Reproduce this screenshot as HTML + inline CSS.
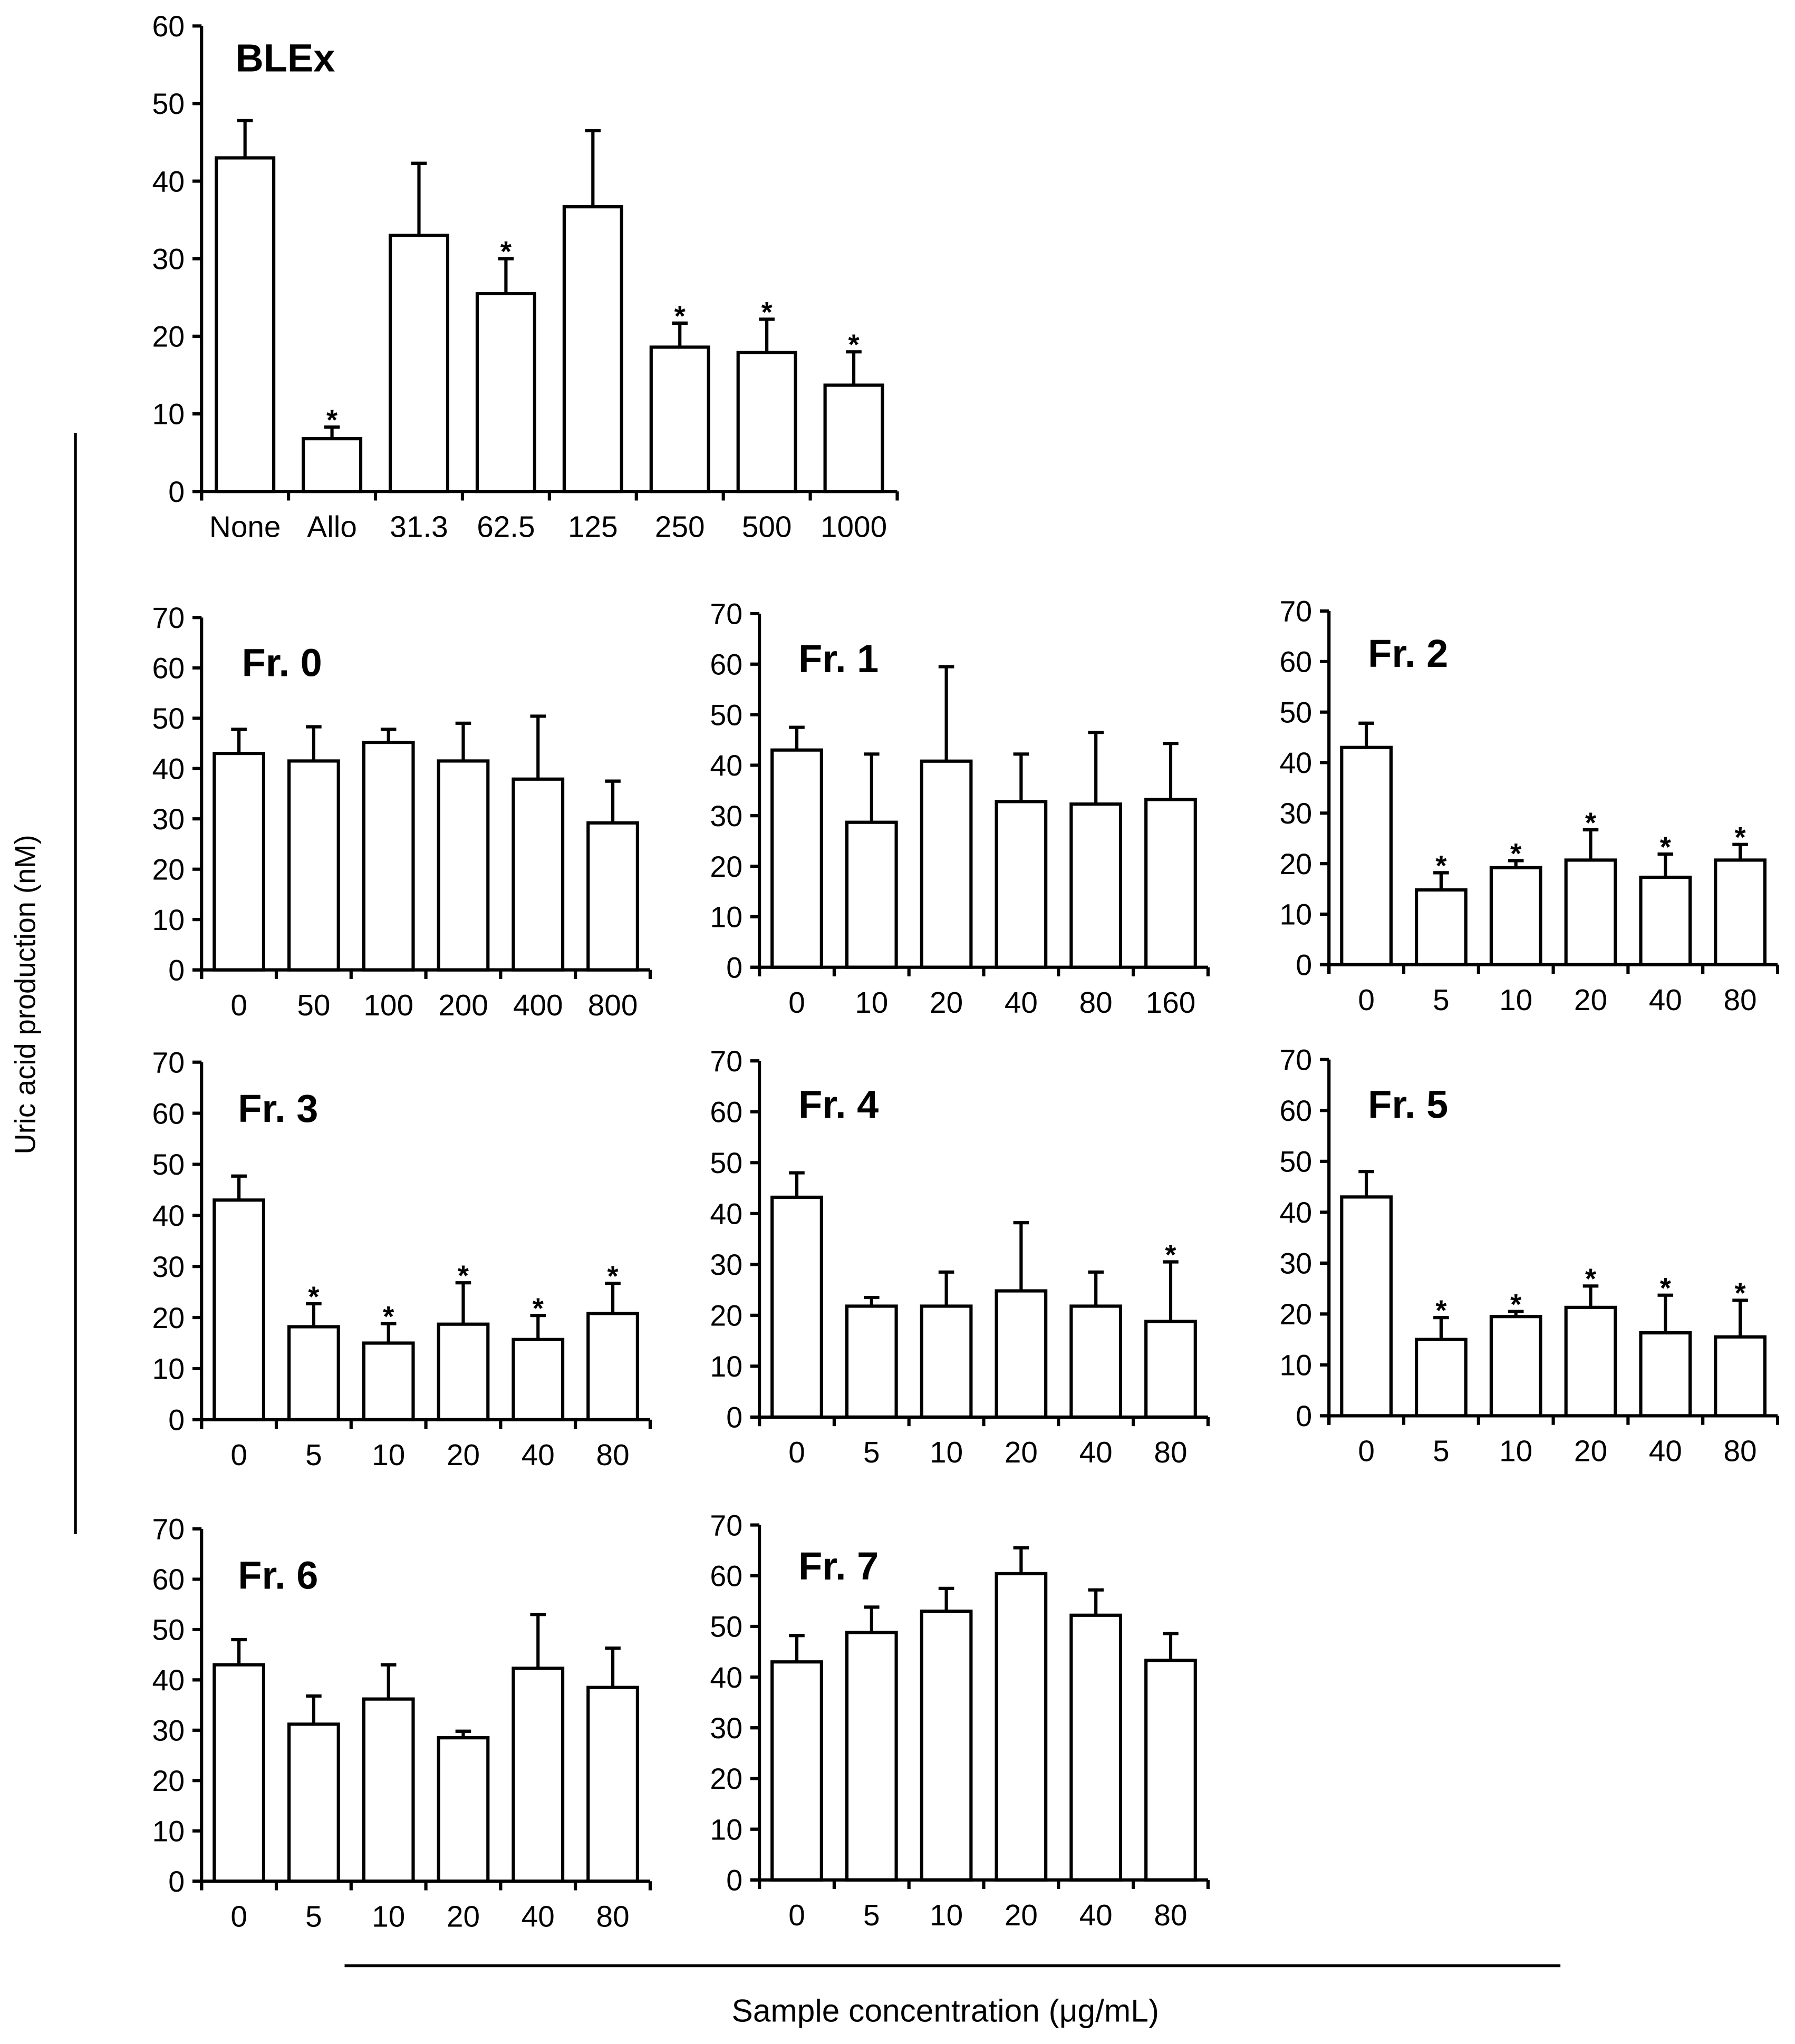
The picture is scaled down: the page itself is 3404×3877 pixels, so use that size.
<!DOCTYPE html>
<html><head><meta charset="utf-8"><style>
html,body{margin:0;padding:0;background:#fff;}
svg{display:block;font-family:"Liberation Sans",Arial,sans-serif;}
</style></head><body>
<svg id="fig" width="3404" height="3877" viewBox="0 0 1380.4 1572.2" xmlns="http://www.w3.org/2000/svg">
<rect width="1380.4" height="1572.2" fill="#fff"/>
<line x1="58" y1="333" x2="58" y2="1180" stroke="#000" stroke-width="2.2"/>
<text transform="translate(27,765) rotate(-90)" text-anchor="middle" font-size="22">Uric acid production (nM)</text>
<line x1="265" y1="1512" x2="1200" y2="1512" stroke="#000" stroke-width="2.2"/>
<text x="727" y="1555" text-anchor="middle" font-size="24.5">Sample concentration (μg/mL)</text>
</svg>
<script>
const blexCats = ["None","Allo","31.3","62.5","125","250","500","1000"];
const blexVals = [43,6.8,33,25.5,36.7,18.6,17.9,13.7];
const blexErr = [47.8,8.3,42.3,30,46.5,21.7,22.2,18];
const blexSig = [0,1,0,1,0,1,1,1];
const blexTicks = [0,10,20,30,40,50,60];

const fr0Cats = ["0","50","100","200","400","800"];
const fr0Vals = [43,41.5,45.2,41.5,37.9,29.2];
const fr0Err = [47.8,48.3,47.8,49,50.4,37.5];
const fr0Sig = [0,0,0,0,0,0];
const fr1Cats = ["0","10","20","40","80","160"];
const fr1Vals = [43,28.7,40.8,32.8,32.3,33.2];
const fr1Err = [47.5,42.2,59.5,42.2,46.5,44.3];
const fr1Sig = [0,0,0,0,0,0];
const fr2Cats = ["0","5","10","20","40","80"];
const fr2Vals = [43,14.8,19.2,20.7,17.3,20.7];
const fr2Err = [47.8,18.2,20.6,26.7,21.9,23.8];
const fr2Sig = [0,1,1,1,1,1];
const fr3Cats = ["0","5","10","20","40","80"];
const fr3Vals = [43,18.2,15,18.7,15.7,20.8];
const fr3Err = [47.7,22.7,18.8,26.8,20.4,26.7];
const fr3Sig = [0,1,1,1,1,1];
const fr4Cats = ["0","5","10","20","40","80"];
const fr4Vals = [43.2,21.8,21.8,24.8,21.8,18.8];
const fr4Err = [48,23.5,28.5,38.2,28.5,30.5];
const fr4Sig = [0,0,0,0,0,1];
const fr5Cats = ["0","5","10","20","40","80"];
const fr5Vals = [43,15,19.5,21.3,16.3,15.5];
const fr5Err = [48,19.3,20.5,25.5,23.7,22.7];
const fr5Sig = [0,1,1,1,1,1];
const fr6Cats = ["0","5","10","20","40","80"];
const fr6Vals = [43,31.2,36.2,28.5,42.3,38.5];
const fr6Err = [48,36.8,43,29.8,53,46.3];
const fr6Sig = [0,0,0,0,0,0];
const fr7Cats = ["0","5","10","20","40","80"];
const fr7Vals = [43,48.8,53,60.4,52.2,43.3];
const fr7Err = [48.2,53.8,57.5,65.5,57.2,48.6];
const fr7Sig = [0,0,0,0,0,0];
const frTicks = [0,10,20,30,40,50,60,70];

const NS="http://www.w3.org/2000/svg";
const svg=document.getElementById('fig');
function mk(tag,attrs,parent){const e=document.createElementNS(NS,tag);for(const k in attrs)e.setAttribute(k,attrs[k]);(parent||svg).appendChild(e);return e;}

function panel(name,title,cats,vals,errs,sig,ticks,ax,y0,ytop,xend,tx,ty){
  const g=mk('g',{});
  
  
  const ymax=ticks[ticks.length-1];
  const Y=v=>y0-(v/ymax)*(y0-ytop);
  const step=(xend-ax)/cats.length;
  const X=i=>ax+step*i;
  const sw=2.5;
  ticks.forEach(t=>{
    const l=mk('line',{x1:ax-7,y1:Y(t),x2:ax,y2:Y(t),stroke:'#000','stroke-width':sw},g);
    
    
    const tt=mk('text',{x:ax-13,y:Y(t)+8,'text-anchor':'end','font-size':22.5},g);
    tt.textContent=t;
    
    
  });
  cats.forEach((c,i)=>{
    const bw=step*0.66, bx=X(i)+(step-bw)/2, cx=X(i)+step/2;
    const el=mk('line',{x1:cx,y1:Y(vals[i]),x2:cx,y2:Y(errs[i]),stroke:'#000','stroke-width':sw},g);
    
    
    const cap=mk('line',{x1:cx-6,y1:Y(errs[i]),x2:cx+6,y2:Y(errs[i]),stroke:'#000','stroke-width':sw},g);
    
    
    const r=mk('rect',{x:bx,y:Y(vals[i]),width:bw,height:y0-Y(vals[i]),fill:'#fff',stroke:'#000','stroke-width':sw},g);
    
    
    if(sig[i]){
      const s=mk('text',{x:cx,y:Y(errs[i])+2,'text-anchor':'middle','font-size':22,'font-weight':'bold'},g);
      s.textContent='*';
      
      
    }
    const lab=mk('text',{x:cx,y:y0+35,'text-anchor':'middle','font-size':23},g);
    lab.textContent=c;
    
    
  });
  for(let i=0;i<=cats.length;i++){
    const l=mk('line',{x1:X(i),y1:y0,x2:X(i),y2:y0+7,stroke:'#000','stroke-width':sw},g);
    
    
  }
  const ya=mk('line',{x1:ax,y1:ytop,x2:ax,y2:y0+7,stroke:'#000','stroke-width':sw},g);
  
  
  const xa=mk('line',{x1:ax-7,y1:y0,x2:xend,y2:y0,stroke:'#000','stroke-width':sw},g);
  
  
  const t=mk('text',{x:tx,y:ty,'font-size':30,'font-weight':'bold'},g);
  t.textContent=title;
  
  
}
panel('blex','BLEx',blexCats,blexVals,blexErr,blexSig,blexTicks,155,378,20,690,181,55);
panel('fr0','Fr. 0',fr0Cats,fr0Vals,fr0Err,fr0Sig,frTicks,155,746,475,500,186,520);
panel('fr1','Fr. 1',fr1Cats,fr1Vals,fr1Err,fr1Sig,frTicks,584,744,472,929,614,517);
panel('fr2','Fr. 2',fr2Cats,fr2Vals,fr2Err,fr2Sig,frTicks,1022,742,470,1367,1052,513);
panel('fr3','Fr. 3',fr3Cats,fr3Vals,fr3Err,fr3Sig,frTicks,155,1092,817,500,183,863);
panel('fr4','Fr. 4',fr4Cats,fr4Vals,fr4Err,fr4Sig,frTicks,584,1090,816,929,614,860);
panel('fr5','Fr. 5',fr5Cats,fr5Vals,fr5Err,fr5Sig,frTicks,1022,1089,815,1367,1052,860);
panel('fr6','Fr. 6',fr6Cats,fr6Vals,fr6Err,fr6Sig,frTicks,155,1447,1176,500,183,1222);
panel('fr7','Fr. 7',fr7Cats,fr7Vals,fr7Err,fr7Sig,frTicks,584,1446,1173,929,614,1215);
</script>
</body></html>
